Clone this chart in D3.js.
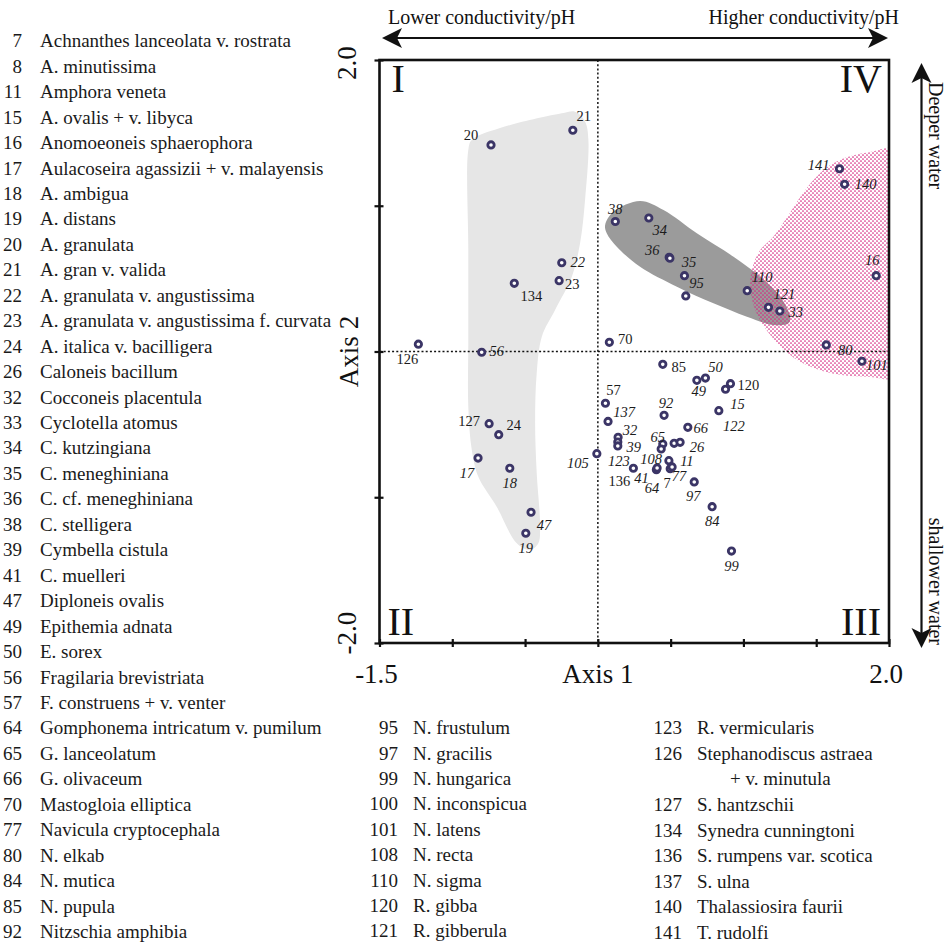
<!DOCTYPE html>
<html>
<head>
<meta charset="utf-8">
<script src="https://cdn.jsdelivr.net/npm/d3@7"></script>
<style>
  body { margin: 0; background: #fff; }
  svg { display: block; font-family: "Liberation Serif", "Times New Roman", serif; }
</style>
</head>
<body>
<svg id="chart" width="948" height="943"></svg>
<script>
// species numbers plotted, with their scores on Axis 1 and Axis 2
const ids = [
  '20', '21', '22', '23', '134',
  '38', '34', '36', '35', '95',
  '8', '70', '126', '56', '141',
  '140', '110', '121', '33', '16',
  '80', '101', '85', '50', '49',
  '120', '15', '122', '57', '137',
  '92', '66', '32', '39', '123',
  '65', '108', '100', '26', '11',
  '41', '64', '7', '77', '136',
  '105', '97', '84', '99', '127',
  '24', '17', '18', '47', '19'
];
const axis1 = [
  -0.734, -0.172, -0.248, -0.266, -0.574,
  0.120, 0.350, 0.490, 0.495, 0.595,
  0.604, 0.079, -1.233, -0.798, 1.660,
  1.695, 1.026, 1.172, 1.250, 1.912,
  1.569, 1.814, 0.446, 0.739, 0.680,
  0.911, 0.877, 0.831, 0.052, 0.070,
  0.455, 0.618, 0.139, 0.137, 0.137,
  0.446, 0.435, 0.524, 0.565, 0.488,
  0.402, 0.407, 0.497, 0.510, 0.244,
  -0.007, 0.662, 0.785, 0.918, -0.747,
  -0.681, -0.823, -0.605, -0.459, -0.495
];
const axis2 = [
  1.417, 1.518, 0.609, 0.486, 0.468,
  0.892, 0.916, 0.646, 0.640, 0.520,
  0.381, 0.063, 0.050, -0.005, 1.254,
  1.147, 0.417, 0.303, 0.278, 0.520,
  0.045, -0.067, -0.088, -0.182, -0.198,
  -0.221, -0.259, -0.406, -0.355, -0.480,
  -0.438, -0.520, -0.589, -0.621, -0.648,
  -0.635, -0.669, -0.630, -0.623, -0.749,
  -0.811, -0.799, -0.804, -0.792, -0.801,
  -0.701, -0.895, -1.065, -1.369, -0.495,
  -0.571, -0.731, -0.801, -1.103, -1.247
];

// group outlines, in axis units
const hullLight = [
  [-0.890, 1.383], [-0.866, 1.451], [-0.672, 1.533], [-0.248, 1.634], [-0.156, 1.645],
  [-0.088, 1.577], [-0.065, 1.451], [-0.088, 1.039], [-0.122, 0.744], [-0.179, 0.513],
  [-0.294, 0.285], [-0.385, 0.102], [-0.420, -0.148], [-0.431, -0.491], [-0.420, -0.834],
  [-0.397, -1.200], [-0.409, -1.316], [-0.466, -1.362], [-0.557, -1.316], [-0.695, -1.065],
  [-0.821, -0.859], [-0.866, -0.676], [-0.890, -0.379], [-0.890, 0.079], [-0.890, 0.696]
];
const hullDark = [
  [0.050, 0.868], [0.107, 0.959], [0.290, 1.033], [0.451, 0.971], [0.680, 0.811],
  [0.932, 0.650], [1.115, 0.513], [1.253, 0.376], [1.321, 0.239], [1.310, 0.193],
  [1.206, 0.182], [1.024, 0.239], [0.794, 0.331], [0.543, 0.445], [0.290, 0.582],
  [0.130, 0.719], [0.061, 0.811]
];
const hullDotted = [
  [1.067, 0.593], [1.115, 0.696], [1.204, 0.786], [1.301, 0.922], [1.390, 1.060],
  [1.493, 1.190], [1.576, 1.266], [1.713, 1.334], [1.871, 1.369], [2.05, 1.380],
  [2.05, -0.170], [1.871, -0.175], [1.596, -0.148], [1.369, -0.058], [1.184, 0.113],
  [1.081, 0.285], [1.046, 0.456]
];

const xTicks = [-1.5, -1.0, -0.5, 0, 0.5, 1.0, 1.5, 2.0];
const yTicks = [-2, -1, 0, 1, 2];
const xEndLabels = [[-1.5, '-1.5'], [2, '2.0']];
const yEndLabels = [[2, '2.0'], [-2, '-2.0']];

// species key, three columns
const keyNumA = ['7', '8', '11', '15', '16', '17', '18', '19', '20', '21', '22', '23',
  '24', '26', '32', '33', '34', '35', '36', '38', '39', '41', '47', '49', '50', '56',
  '57', '64', '65', '66', '70', '77', '80', '84', '85', '92'];
const keyNameA = ['Achnanthes lanceolata v. rostrata', 'A. minutissima', 'Amphora veneta',
  'A. ovalis + v. libyca', 'Anomoeoneis sphaerophora', 'Aulacoseira agassizii + v. malayensis',
  'A. ambigua', 'A. distans', 'A. granulata', 'A. gran v. valida', 'A. granulata v. angustissima',
  'A. granulata v. angustissima f. curvata', 'A. italica v. bacilligera', 'Caloneis bacillum',
  'Cocconeis placentula', 'Cyclotella atomus', 'C. kutzingiana', 'C. meneghiniana',
  'C. cf. meneghiniana', 'C. stelligera', 'Cymbella cistula', 'C. muelleri', 'Diploneis ovalis',
  'Epithemia adnata', 'E. sorex', 'Fragilaria brevistriata', 'F. construens + v. venter',
  'Gomphonema intricatum v. pumilum', 'G. lanceolatum', 'G. olivaceum', 'Mastogloia elliptica',
  'Navicula cryptocephala', 'N. elkab', 'N. mutica', 'N. pupula', 'Nitzschia amphibia'];
const keyNumB = ['95', '97', '99', '100', '101', '108', '110', '120', '121'];
const keyNameB = ['N. frustulum', 'N. gracilis', 'N. hungarica', 'N. inconspicua', 'N. latens',
  'N. recta', 'N. sigma', 'R. gibba', 'R. gibberula'];
const keyNumC = ['123', '126', '', '127', '134', '136', '137', '140', '141'];
const keyNameC = ['R. vermicularis', 'Stephanodiscus astraea', '+ v. minutula', 'S. hantzschii',
  'Synedra cunningtoni', 'S. rumpens var. scotica', 'S. ulna', 'Thalassiosira faurii', 'T. rudolfi'];

// label placement around each marker (px), and labels set in roman type
const labelOffset = {
  '20': [-20, -10], '21': [11, -14], '22': [16, -1], '23': [13, 3], '134': [17, 13],
  '38': [0, -13], '34': [11, 12], '36': [-17, -7], '35': [19, 4], '95': [12, 7],
  '70': [16, -3], '126': [-11, 15], '56': [15, -1], '141': [-21, -4], '140': [21, 0],
  '110': [15, -14], '121': [16, -13], '33': [16, 1], '16': [-4, -16], '80': [19, 5],
  '101': [15, 4], '85': [16, 3], '50': [10, -11], '49': [2, 11], '120': [18, 1],
  '15': [12, 15], '122': [15, 15], '57': [8, -13], '137': [16, -10], '92': [2, -12],
  '66': [13, 1], '32': [12, -7], '39': [16, 5], '123': [1, 15], '65': [-5, -7],
  '108': [-10, 10], '26': [17, 5], '11': [18, 0], '41': [-15, 8], '64': [-5, 20],
  '7': [-3, 14], '77': [7, 9], '136': [-14, 13], '105': [-19, 9], '97': [-1, 14],
  '84': [0, 14], '99': [0, 15], '127': [-20, -3], '24': [15, -10], '17': [-11, 15],
  '18': [0, 15], '47': [13, 13], '19': [0, 15]
};
const upright = ['20', '21', '23', '134', '70', '126', '127', '24', '57', '85', '120', '136', '7'];

const svg = d3.select('#chart');
const ink = '#111';
const markColor = '#3b3566';

const x = d3.scaleLinear().domain([-1.5, 2]).range([379.5, 889]);
const y = d3.scaleLinear().domain([-2, 2]).range([643, 60]);

const defs = svg.append('defs');
defs.append('clipPath').attr('id', 'plotClip')
  .append('rect')
  .attr('x', x(-1.5)).attr('y', y(2))
  .attr('width', x(2) - x(-1.5)).attr('height', y(-2) - y(2));

const dots = defs.append('pattern')
  .attr('id', 'dots')
  .attr('width', 4).attr('height', 4)
  .attr('patternUnits', 'userSpaceOnUse');
dots.append('circle').attr('cx', 1).attr('cy', 1).attr('r', 0.85).attr('fill', '#d6247f');
dots.append('circle').attr('cx', 3).attr('cy', 3).attr('r', 0.85).attr('fill', '#d6247f');

const hullLine = d3.line()
  .x(d => x(d[0]))
  .y(d => y(d[1]))
  .curve(d3.curveCatmullRomClosed.alpha(0.5));

const plot = svg.append('g').attr('clip-path', 'url(#plotClip)');
plot.append('path').attr('d', hullLine(hullLight)).attr('fill', '#e6e6e6');
plot.append('path').attr('d', hullLine(hullDark)).attr('fill', '#9b9b9b');
plot.append('path').attr('d', hullLine(hullDotted)).attr('fill', 'url(#dots)');

// zero lines
plot.append('line')
  .attr('x1', x(0)).attr('x2', x(0))
  .attr('y1', y(2)).attr('y2', y(-2))
  .attr('stroke', ink).attr('stroke-width', 1.5)
  .attr('stroke-dasharray', '2,2.2');
plot.append('line')
  .attr('x1', x(-1.5)).attr('x2', x(2))
  .attr('y1', y(0)).attr('y2', y(0))
  .attr('stroke', ink).attr('stroke-width', 1.5)
  .attr('stroke-dasharray', '2,2.2');

// axes: ticks cross the frame line
const xAxis = svg.append('g')
  .attr('transform', `translate(0,${y(-2)})`)
  .call(d3.axisBottom(x).tickValues(xTicks).tickSize(4).tickFormat(''));
xAxis.select('.domain').remove();
xAxis.selectAll('.tick line').attr('y1', -4).attr('stroke', ink).attr('stroke-width', 2.2);

const yAxis = svg.append('g')
  .attr('transform', `translate(${x(-1.5)},0)`)
  .call(d3.axisLeft(y).tickValues(yTicks).tickSize(4).tickFormat(''));
yAxis.select('.domain').remove();
yAxis.selectAll('.tick line').attr('x1', 4).attr('x2', -5).attr('stroke', ink).attr('stroke-width', 2.2);

svg.append('rect')
  .attr('x', x(-1.5)).attr('y', y(2))
  .attr('width', x(2) - x(-1.5)).attr('height', y(-2) - y(2))
  .attr('fill', 'none').attr('stroke', ink).attr('stroke-width', 2.6);

// end tick labels and axis titles
const big = '27px';
xEndLabels.forEach(([v, t]) => {
  svg.append('text')
    .attr('x', x(v) - 3).attr('y', 683)
    .attr('text-anchor', 'middle')
    .attr('font-size', big).attr('fill', ink)
    .text(t);
});
svg.append('text')
  .attr('x', x(0)).attr('y', 683)
  .attr('text-anchor', 'middle')
  .attr('font-size', big).attr('fill', ink)
  .text('Axis 1');

yEndLabels.forEach(([v, t]) => {
  svg.append('text')
    .attr('transform', `translate(356,${v > 0 ? y(v) + 3 : y(v) - 10}) rotate(-90)`)
    .attr('text-anchor', 'middle')
    .attr('font-size', big).attr('fill', ink)
    .text(t);
});
svg.append('text')
  .attr('transform', `translate(358,${y(0)}) rotate(-90)`)
  .attr('text-anchor', 'middle')
  .attr('font-size', big).attr('fill', ink)
  .text('Axis 2');

// quadrant numerals
const quad = [
  { t: 'I', x: x(-1.5) + 12, y: 92, a: 'start' },
  { t: 'II', x: x(-1.5) + 8, y: 635, a: 'start' },
  { t: 'III', x: x(2) - 8, y: 635, a: 'end' },
  { t: 'IV', x: x(2) - 7, y: 92, a: 'end' }
];
svg.selectAll('.quad')
  .data(quad)
  .enter()
  .append('text')
  .attr('class', 'quad')
  .attr('x', d => d.x).attr('y', d => d.y)
  .attr('text-anchor', d => d.a)
  .attr('font-size', '40px').attr('fill', ink)
  .text(d => d.t);

// gradient arrows
function head(px, py, angle) {
  svg.append('path')
    .attr('d', 'M0,0 L20,-10 L15,0 L20,10 Z')
    .attr('transform', `translate(${px},${py}) rotate(${angle})`)
    .attr('fill', ink);
}
svg.append('line')
  .attr('x1', 390).attr('x2', 880).attr('y1', 38).attr('y2', 38)
  .attr('stroke', ink).attr('stroke-width', 2.2);
head(382, 38, 0);
head(888, 38, 180);

svg.append('line')
  .attr('x1', 921.5).attr('x2', 921.5).attr('y1', 72).attr('y2', 640)
  .attr('stroke', ink).attr('stroke-width', 2.2);
head(921.5, 63, 90);
head(921.5, 648, -90);

const side = '20px';
svg.append('text')
  .attr('x', 388).attr('y', 24)
  .attr('font-size', side).attr('fill', ink)
  .text('Lower conductivity/pH');
svg.append('text')
  .attr('x', 899).attr('y', 24)
  .attr('text-anchor', 'end')
  .attr('font-size', side).attr('fill', ink)
  .text('Higher conductivity/pH');
svg.append('text')
  .attr('transform', 'translate(929,82) rotate(90)')
  .attr('font-size', side).attr('fill', ink)
  .text('Deeper water');
svg.append('text')
  .attr('transform', 'translate(929,645) rotate(90)')
  .attr('text-anchor', 'end')
  .attr('font-size', side).attr('fill', ink)
  .text('shallower water');

// species markers and numbers
const pts = ids.map((id, i) => ({ id, a1: axis1[i], a2: axis2[i] }));

svg.append('g')
  .selectAll('circle')
  .data(pts)
  .enter()
  .append('circle')
  .attr('cx', d => x(d.a1))
  .attr('cy', d => y(d.a2))
  .attr('r', 3.2)
  .attr('fill', '#fff')
  .attr('stroke', markColor)
  .attr('stroke-width', 2.8);

svg.append('g')
  .selectAll('text')
  .data(pts.filter(d => labelOffset[d.id]))
  .enter()
  .append('text')
  .attr('x', d => x(d.a1) + labelOffset[d.id][0])
  .attr('y', d => y(d.a2) + labelOffset[d.id][1])
  .attr('dy', '0.35em')
  .attr('text-anchor', 'middle')
  .attr('font-size', '14.5px')
  .attr('font-style', d => upright.includes(d.id) ? 'normal' : 'italic')
  .attr('fill', '#1c1c1c')
  .text(d => d.id);

// key
const keyFont = '19px';
function keyColumn(nums, names, numX, nameX, top, step, indent) {
  const g = svg.append('g').attr('font-size', keyFont).attr('fill', '#1a1a1a');
  names.forEach((name, i) => {
    const cy = top + i * step;
    if (nums[i]) {
      g.append('text').attr('x', numX).attr('y', cy).attr('dy', '0.33em')
        .attr('text-anchor', 'end').text(nums[i]);
    }
    g.append('text').attr('x', nums[i] ? nameX : nameX + indent).attr('y', cy).attr('dy', '0.33em')
      .text(name);
  });
}
keyColumn(keyNumA, keyNameA, 22, 40, 41, 25.45, 0);
keyColumn(keyNumB, keyNameB, 398, 413, 728, 25.4, 0);
keyColumn(keyNumC, keyNameC, 682, 697, 728, 25.6, 33);
</script>
</body>
</html>
